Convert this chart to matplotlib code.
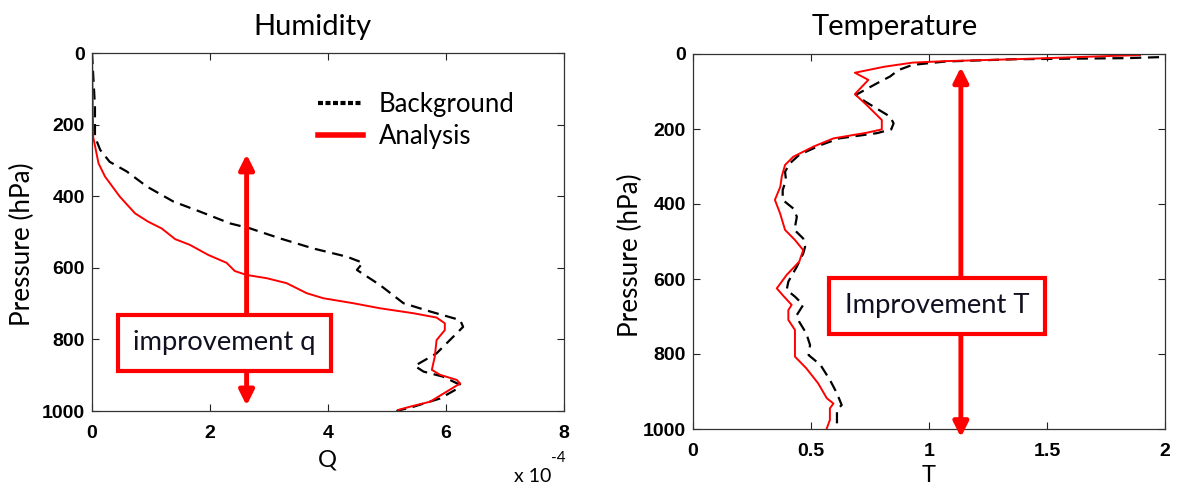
import numpy as np
import matplotlib
matplotlib.use("Agg")
import matplotlib.pyplot as plt
from matplotlib.lines import Line2D
from matplotlib.font_manager import FontProperties

# ---- data ----
# Humidity panel (Q in units of 1e-4, pressure in hPa)
q_bg = [0.0, 0.05, 0.05, 0.14, 0.30, 0.59, 0.93, 1.38, 1.83, 2.34, 2.68, 3.19,
        3.75, 4.32, 4.59, 4.49, 4.88, 5.28, 5.73, 6.24, 6.29, 5.84, 5.47, 5.62,
        5.95, 6.24, 6.20, 5.90, 5.45, 5.16]
p_q_bg = [0, 150, 234, 271, 304, 331, 373, 415, 443, 476, 490, 518,
          546, 569, 586, 606, 648, 699, 722, 746, 765, 839, 874, 890,
          904, 927, 937, 965, 988, 1000]
q_an = [0.0, 0.02, 0.11, 0.22, 0.47, 0.73, 0.95, 1.18, 1.41, 1.66, 1.97, 2.28,
        2.42, 2.62, 2.96, 3.30, 3.64, 3.92, 4.43, 4.88, 5.45, 5.84, 5.98, 5.98,
        5.84, 5.81, 5.76, 5.90, 6.18, 6.24, 6.01, 5.73, 5.39, 5.19]
p_q_an = [0, 234, 308, 345, 401, 448, 471, 490, 520, 536, 564, 586,
          609, 620, 629, 643, 671, 685, 699, 713, 727, 739, 755, 774,
          802, 848, 885, 899, 913, 923, 946, 974, 988, 997]

# Temperature panel
t_bg = [2.05, 1.84, 1.36, 1.07, 0.93, 0.87, 0.835, 0.78, 0.69, 0.73, 0.835, 0.85,
        0.84, 0.78, 0.62, 0.54, 0.45, 0.41, 0.39, 0.394, 0.38, 0.38, 0.425, 0.44,
        0.43, 0.467, 0.475, 0.467, 0.44, 0.404, 0.397, 0.432, 0.467, 0.44, 0.45,
        0.48, 0.496, 0.49, 0.54, 0.58, 0.61, 0.63, 0.61, 0.61]
p_t_bg = [7, 11, 14, 20, 29, 43, 60, 78, 109, 127, 167, 185,
          201, 211, 225, 243, 269, 292, 314, 336, 363, 389, 412, 434,
          469, 492, 514, 532, 567, 607, 629, 647, 669, 696, 714,
          745, 776, 803, 829, 869, 905, 936, 949, 998]
t_an = [1.894, 1.78, 1.36, 1.07, 0.93, 0.81, 0.686, 0.743, 0.686, 0.736, 0.80, 0.80,
        0.736, 0.595, 0.51, 0.425, 0.39, 0.376, 0.37, 0.347, 0.369, 0.39, 0.432,
        0.467, 0.45, 0.397, 0.355, 0.38, 0.418, 0.404, 0.404, 0.432, 0.432, 0.432,
        0.48, 0.53, 0.567, 0.595, 0.58, 0.58, 0.567]
p_t_an = [3, 5, 14, 19, 23, 34, 50, 69, 107, 136, 176, 201,
          210, 225, 247, 274, 296, 327, 354, 389, 425, 469, 496,
          523, 554, 589, 625, 643, 669, 683, 709, 736, 771, 807,
          838, 878, 918, 932, 945, 976, 998]

q_ticks = [0, 2, 4, 6, 8]
t_ticks = [0, 0.5, 1, 1.5, 2]
p_ticks = [0, 200, 400, 600, 800, 1000]

W, H = 1179, 488
fig = plt.figure(figsize=(W / 100, H / 100), dpi=100)

TXT = "Lato"
TICKFONT = FontProperties(family="Liberation Sans", size=14, weight="bold")
RED = "#ff0000"


def style_axes(ax, xlim, xticks, xticklabels):
    ax.set_xlim(*xlim)
    ax.set_ylim(1000, 0)
    ax.set_xticks(xticks)
    ax.set_xticklabels(xticklabels)
    ax.set_yticks(p_ticks)
    ax.tick_params(direction="in", top=True, right=True, length=5, width=0.8,
                   colors="#222222")
    ax.tick_params(axis="x", pad=10)
    ax.tick_params(axis="y", pad=5)
    for lab in ax.get_xticklabels() + ax.get_yticklabels():
        lab.set_fontproperties(TICKFONT)
        lab.set_color("black")
    for s in ax.spines.values():
        s.set_linewidth(0.9)
        s.set_color("#333333")


# ---- humidity ----
ax1 = fig.add_axes([92 / W, 1 - 411 / H, 472 / W, 358 / H])
ax1.plot(q_bg, p_q_bg, color="black", lw=1.6, dashes=(5, 3))
ax1.plot(q_an, p_q_an, color=RED, lw=1.4)
style_axes(ax1, (0, 8), q_ticks, [str(t) for t in q_ticks])

handles = [Line2D([], [], color="black", lw=3, dashes=(1.2, 0.6)),
           Line2D([], [], color=RED, lw=4)]
ax1.legend(handles, ["Background", "Analysis"], loc="upper left",
           bbox_to_anchor=(0.43, 0.955), frameon=False, handlelength=1.75,
           handletextpad=0.6, labelspacing=0.25,
           prop=dict(family=TXT, size=18.5))

ax1.annotate("", xy=(2.62, 283), xytext=(2.62, 985),
             arrowprops=dict(arrowstyle="<|-|>", color=RED, lw=3.5,
                             mutation_scale=22, shrinkA=0, shrinkB=0),
             annotation_clip=False, zorder=5)
ax1.text(2.24, 810, "improvement q", ha="center", va="center", zorder=6,
         family=TXT, size=19.7, color="#101020",
         bbox=dict(boxstyle="square,pad=0.56", fc="white", ec=RED, lw=3))

fig.text(312 / W, 1 - 27 / H, "Humidity", ha="center", va="center",
         family=TXT, size=21)
fig.text(22 / W, 1 - 244 / H, "Pressure (hPa)", ha="center", va="center",
         rotation=90, family=TXT, size=18.8)
fig.text(327 / W, 1 - 460 / H, "Q", ha="center", va="center",
         family=TXT, size=17)
fig.text(533 / W, 1 - 477 / H, "x 10", ha="center", va="center",
         family=TXT, size=14)
fig.text(558 / W, 1 - 458 / H, "-4", ha="center", va="center",
         family=TXT, size=11)

# ---- temperature ----
ax2 = fig.add_axes([693 / W, 1 - 429 / H, 472 / W, 375 / H])
ax2.plot(t_bg, p_t_bg, color="black", lw=1.6, dashes=(5, 3))
ax2.plot(t_an, p_t_an, color=RED, lw=1.4)
style_axes(ax2, (0, 2), t_ticks, ["0", "0.5", "1", "1.5", "2"])

ax2.annotate("", xy=(1.135, 35), xytext=(1.135, 1022),
             arrowprops=dict(arrowstyle="<|-|>", color=RED, lw=3.5,
                             mutation_scale=22, shrinkA=0, shrinkB=0),
             annotation_clip=False, zorder=5)
ax2.text(1.034, 672, "Improvement T", ha="center", va="center", zorder=6,
         family=TXT, size=19.7, color="#101020",
         bbox=dict(boxstyle="square,pad=0.56", fc="white", ec=RED, lw=3))

fig.text(895 / W, 1 - 27 / H, "Temperature", ha="center", va="center",
         family=TXT, size=21)
fig.text(630 / W, 1 - 255 / H, "Pressure (hPa)", ha="center", va="center",
         rotation=90, family=TXT, size=18.8)
fig.text(929 / W, 1 - 476 / H, "T", ha="center", va="center",
         family=TXT, size=17)

fig.savefig("out.png", dpi=100)
